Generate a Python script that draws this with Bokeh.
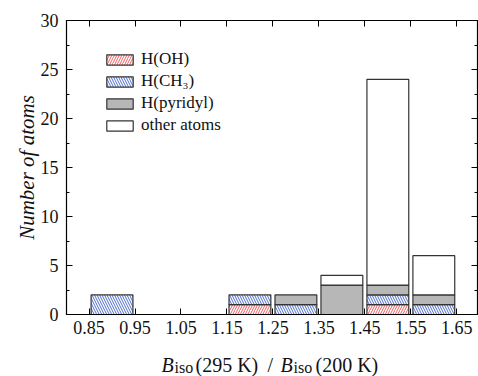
import numpy as np
from bokeh.plotting import figure
from bokeh.layouts import column
from bokeh.models import FixedTicker, LinearAxis, Legend, LegendItem, Range1d
from bokeh.core.properties import value
from bokeh.embed import file_html
from bokeh.resources import INLINE

# ---- data ----
bin_centers = [0.9, 1.2, 1.3, 1.4, 1.5, 1.6]
h_oh = [0, 1, 0, 0, 1, 0]
h_ch3 = [2, 1, 1, 0, 1, 1]
h_pyridyl = [0, 0, 1, 3, 1, 1]
other_atoms = [0, 0, 0, 1, 21, 4]
series_names = ["H(OH)", "H(CH\u2083)", "H(pyridyl)", "other atoms"]
x_ticks = [0.85, 0.95, 1.05, 1.15, 1.25, 1.35, 1.45, 1.55, 1.65]
x_tick_labels = ["0.85", "0.95", "1.05", "1.15", "1.25", "1.35", "1.45", "1.55", "1.65"]
y_ticks = [0, 5, 10, 15, 20, 25, 30]
y_minor_ticks = [2.5, 7.5, 12.5, 17.5, 22.5, 27.5]

FONT = "Liberation Serif"
RED = "#ee4a4c"
BLUE = "#3a5cc8"

p = figure(width=478, height=346, output_backend="svg", toolbar_location=None,
           x_range=Range1d(0.801, 1.695), y_range=Range1d(0, 30),
           min_border_left=66, min_border_right=1, min_border_top=20, min_border_bottom=32)
p.grid.visible = False
p.outline_line_color = "black"
p.background_fill_color = "white"
p.border_fill_color = "white"

styles = [
    dict(fill_color="white", hatch_pattern="right_diagonal_line", hatch_color=RED,
         hatch_scale=5, hatch_weight=0.9),
    dict(fill_color="white", hatch_pattern="left_diagonal_line", hatch_color=BLUE,
         hatch_scale=5, hatch_weight=0.9),
    dict(fill_color="#b7b7b7"),
    dict(fill_color="white"),
]

series = [h_oh, h_ch3, h_pyridyl, other_atoms]
bottom = np.zeros(len(bin_centers))
renderers = []
for vals, st in zip(series, styles):
    vals = np.array(vals, dtype=float)
    top = bottom + vals
    mask = vals > 0
    r = p.vbar(x=list(np.array(bin_centers)[mask]), width=0.091,
               bottom=list(bottom[mask]), top=list(top[mask]),
               line_color="#333333", line_width=1.2, **st)
    renderers.append(r)
    bottom = top

# axes
def style_axis(ax, ticks=None):
    ax.axis_line_color = "black"
    ax.axis_line_width = 1.2
    ax.major_tick_line_color = "black"
    ax.minor_tick_line_color = "black"
    ax.major_tick_in = 6
    ax.major_tick_out = 0
    ax.minor_tick_in = 3
    ax.minor_tick_out = 0
    if ticks is None:
        ax.major_label_text_font = FONT
        ax.major_label_text_font_size = "18px"
        ax.major_label_text_color = "#111111"
    else:
        ax.major_label_overrides = {t: "" for t in ticks}
        ax.major_label_text_font_size = "1px"
        ax.major_label_standoff = 0

p.xaxis.ticker = FixedTicker(ticks=x_ticks)
p.xaxis.major_label_overrides = {t: l for t, l in zip(x_ticks, x_tick_labels)}
p.yaxis.ticker = FixedTicker(ticks=y_ticks, minor_ticks=y_minor_ticks)
for ax in p.xaxis:
    style_axis(ax)
    ax.major_label_standoff = 6
    ax.minor_tick_in = 0
for ax in p.yaxis:
    style_axis(ax)
    ax.major_label_standoff = 8
    ax.axis_label = "Number of atoms"
    ax.axis_label_text_font = FONT
    ax.axis_label_text_font_style = "italic"
    ax.axis_label_text_font_size = "21px"
    ax.axis_label_standoff = -1
    ax.axis_label_text_color = "#111111"

top_ax = LinearAxis(ticker=FixedTicker(ticks=x_ticks))
style_axis(top_ax, ticks=x_ticks)
top_ax.minor_tick_in = 0
p.add_layout(top_ax, "above")
right_ax = LinearAxis(ticker=FixedTicker(ticks=y_ticks, minor_ticks=y_minor_ticks))
style_axis(right_ax, ticks=y_ticks + y_minor_ticks)
p.add_layout(right_ax, "right")

# legend
legend = Legend(items=[LegendItem(label=n, renderers=[r]) for n, r in zip(series_names, renderers)],
                location=(37, 179), orientation="vertical",
                glyph_width=33, glyph_height=13, label_height=20, label_standoff=5,
                spacing=2, padding=0, margin=0,
                border_line_color=None, background_fill_alpha=0,
                label_text_font=FONT, label_text_font_size="17px", label_text_color="#111111")
p.add_layout(legend)

# x-axis title strip (B italic with subscript "iso"), coordinates = page pixels
t = figure(width=478, height=30, output_backend="svg", toolbar_location=None,
           x_range=Range1d(0, 478), y_range=Range1d(376, 346),
           x_axis_type=None, y_axis_type=None,
           min_border_left=0, min_border_right=0, min_border_top=0, min_border_bottom=0)
t.grid.visible = False
t.outline_line_color = None
t.background_fill_color = "white"
t.border_fill_color = "white"
for fig in (p, t):
    if "frame_align" in fig.properties():
        fig.frame_align = False

pieces = [
    ("B", 161, 364, "20px", "italic"),
    ("iso", 174, 367, "16px", "normal"),
    ("(295 K)", 195, 364, "20px", "normal"),
    ("/", 267, 364, "20px", "normal"),
    ("B", 280, 364, "20px", "italic"),
    ("iso", 293, 367, "16px", "normal"),
    ("(200 K)", 315, 364, "20px", "normal"),
]
for txt, x, y, fs, style in pieces:
    t.text(x=[x], y=[y], text=[txt], text_font=value(FONT), text_font_size=value(fs),
           text_font_style=style, text_baseline="alphabetic", text_align="left",
           text_color="#111111")

layout = column(p, t, spacing=0)
open("out.html", "w").write(file_html(layout, INLINE))
